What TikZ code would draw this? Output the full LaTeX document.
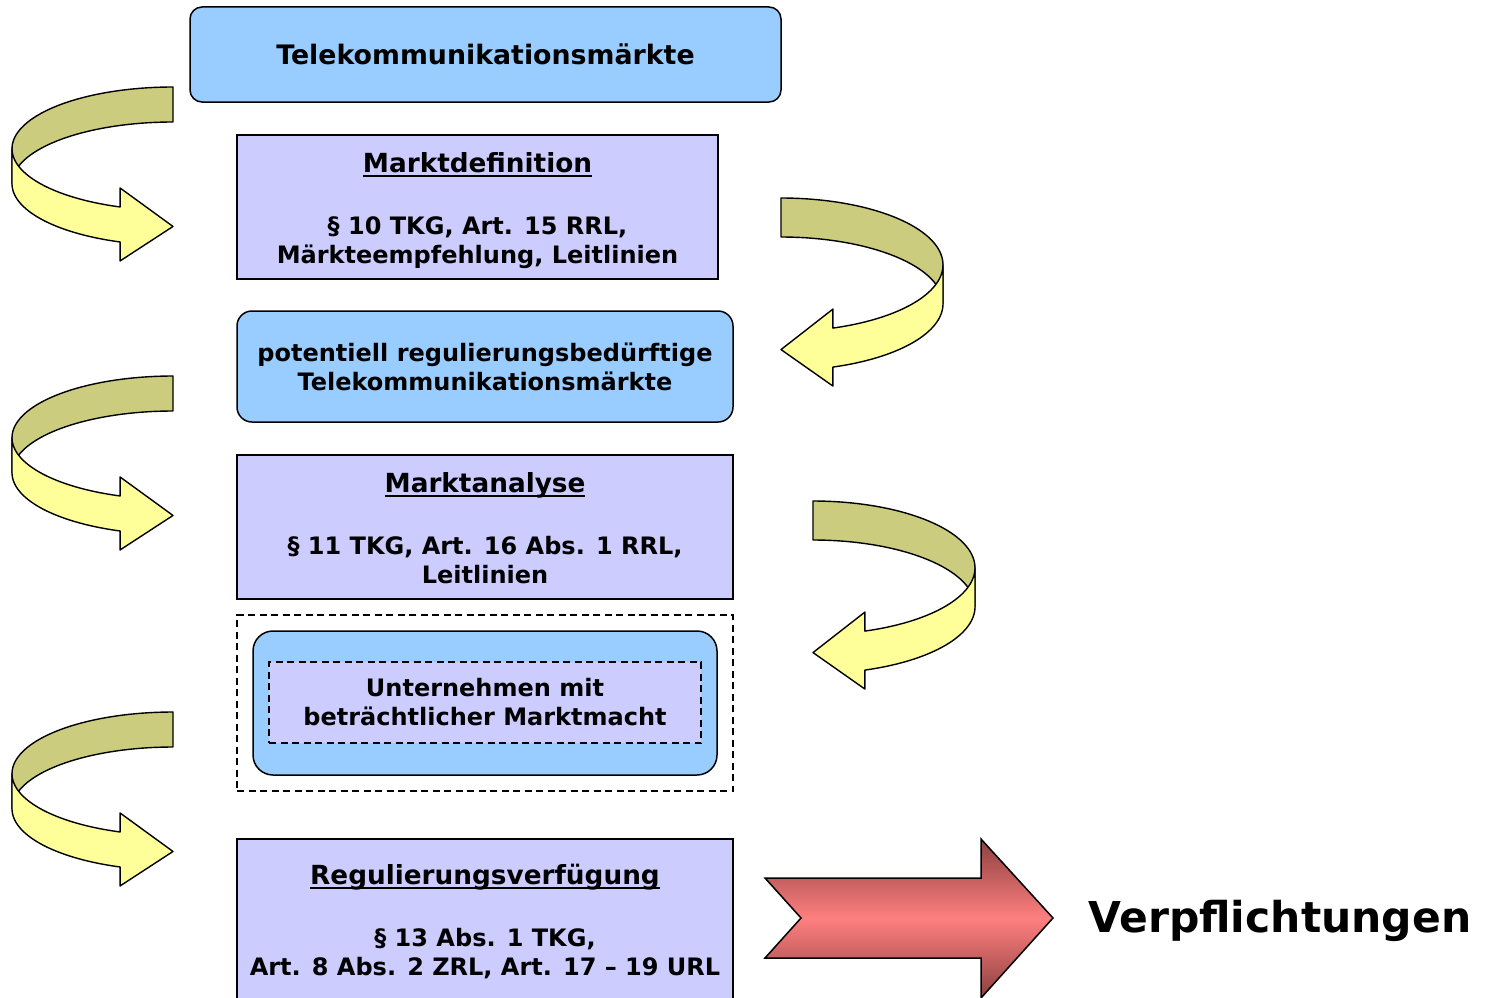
\documentclass[tikz,border=0pt]{standalone}
\usepackage{fontspec}
\setmainfont{DejaVu Sans}
\newfontfamily\boxfont{DejaVu Sans Bold}
\definecolor{boxblue}{RGB}{153,204,255}
\definecolor{lav}{RGB}{204,204,255}
\definecolor{olive}{RGB}{204,204,127}
\definecolor{paleyellow}{RGB}{255,255,153}
\definecolor{redmid}{RGB}{255,127,127}
\definecolor{reddark}{RGB}{140,64,64}
\newcommand\ulx[1]{\rule{0pt}{26.5pt}{\fontsize{26.3}{29}\selectfont\setbox0\hbox{#1}\rlap{\rule[-4.5pt]{\wd0}{2pt}}\box0}}
\newcommand\deepline{\rule[-5.7pt]{0pt}{5.7pt}}
% #1 cx, #2 cy, #3 rx, #4 ry, #5 h, #6 tb, #7 dir, #8 head extra
\newcommand\curlarrow[8]{%
  \pgfmathsetmacro\cxb{#1-#7*#3*sin(#6)}%
  \pgfmathsetmacro\cyb{#2-#4*cos(#6)}%
  \draw[backband] plot[domain=0:90,samples=40,variable=\t] ({#1-#7*#3*sin(\t)},{#2-#4*cos(\t)})
     -- plot[domain=90:0,samples=40,variable=\t] ({#1-#7*#3*sin(\t)},{#2-#4*cos(\t)+#5}) -- cycle;
  \draw[frontband] plot[domain=90:#6,samples=40,variable=\t] ({#1-#7*#3*sin(\t)},{#2-#4*cos(\t)})
     -- (\cxb,\cyb-#8) -- (#1,\cyb+#5/2+2) -- (\cxb,\cyb+#5+#8)
     -- plot[domain=#6:90,samples=40,variable=\t] ({#1-#7*#3*sin(\t)},{#2-#4*cos(\t)+#5}) -- cycle;
}
\tikzset{
  backband/.style={fill=olive,draw=black,line width=1.4pt,line join=round},
  frontband/.style={fill=paleyellow,draw=black,line width=1.4pt,line join=round},
  txt/.style={font=\boxfont\fontsize{24}{29}\selectfont,align=center,text=black},
  bluebox/.style={txt,draw=black,line width=1.5pt,fill=boxblue,rounded corners=12pt,inner sep=0pt},
  lavbox/.style={txt,draw=black,line width=1.5pt,fill=lav,inner sep=0pt},
  dashbox/.style={draw=black,line width=1.5pt,dash pattern=on 7pt off 4.5pt,inner sep=0pt},
}
\begin{document}
\begin{tikzpicture}[x=1pt,y=-1pt]
\useasboundingbox (0,0) rectangle (1488,998);
\clip (0,0) rectangle (1488,998);
% boxes
\node[bluebox,font=\boxfont\fontsize{26.8}{30}\selectfont,minimum width=591pt,minimum height=95pt] (tm) at (485.5,54.5) {Telekommunikationsmärkte};
\node[lavbox,minimum width=481pt,minimum height=144pt] (md) at (477.5,207) {\ulx{Marktdefinition}\\[33pt]§ 10 TKG, Art. 15 RRL,\\Märkteempfehlung, Leitlinien};
\node[bluebox,rounded corners=15pt,minimum width=496pt,minimum height=111pt] (pr) at (485,366.5) {potentiell regulierungsbedürftige\\Telekommunikationsmärkte};
\node[lavbox,minimum width=496pt,minimum height=144pt] (ma) at (485,527) {\ulx{Marktanalyse}\\[33pt]§ 11 TKG, Art. 16 Abs. 1 RRL,\\Leitlinien\rule[-4.5pt]{0pt}{4.5pt}};
\node[dashbox,minimum width=496pt,minimum height=176pt] (outer) at (485,703) {};
\node[bluebox,rounded corners=20pt,minimum width=464pt,minimum height=144pt] (smp) at (485,703) {};
\node[dashbox,txt,fill=lav,minimum width=432pt,minimum height=81pt] (smpt) at (485,702.5) {Unternehmen mit\\beträchtlicher Marktmacht};
\node[lavbox,minimum width=496pt,minimum height=161pt] (rv) at (485,919.5) {\ulx{Regulierungsverfügung}\\[33pt]§ 13 Abs. 1 TKG,\\Art. 8 Abs. 2 ZRL, Art. 17 – 19 URL\deepline};
% curved arrows left
\curlarrow{173}{148.7}{161}{61.7}{35}{160.8}{1}{19}
\curlarrow{173}{437.7}{161}{61.7}{35}{160.8}{1}{19}
\curlarrow{173}{773.7}{161}{61.7}{35}{160.8}{1}{19}
% curved arrows right
\curlarrow{781}{264.8}{162}{66.8}{39}{161.3}{-1}{19}
\curlarrow{813}{567.8}{162}{66.8}{39}{161.3}{-1}{19}
% big arrow
\draw[line width=1.5pt,line join=miter,top color=reddark,bottom color=reddark,middle color=redmid]
  (765,878) -- (981,878) -- (981,839) -- (1053,918) -- (981,998) -- (981,958) -- (765,958) -- (801,918) -- cycle;
\node[font=\boxfont\fontsize{42.5}{48}\selectfont,anchor=base] (vp) at (1280,932) {Verpflichtungen};
\end{tikzpicture}
\end{document}
